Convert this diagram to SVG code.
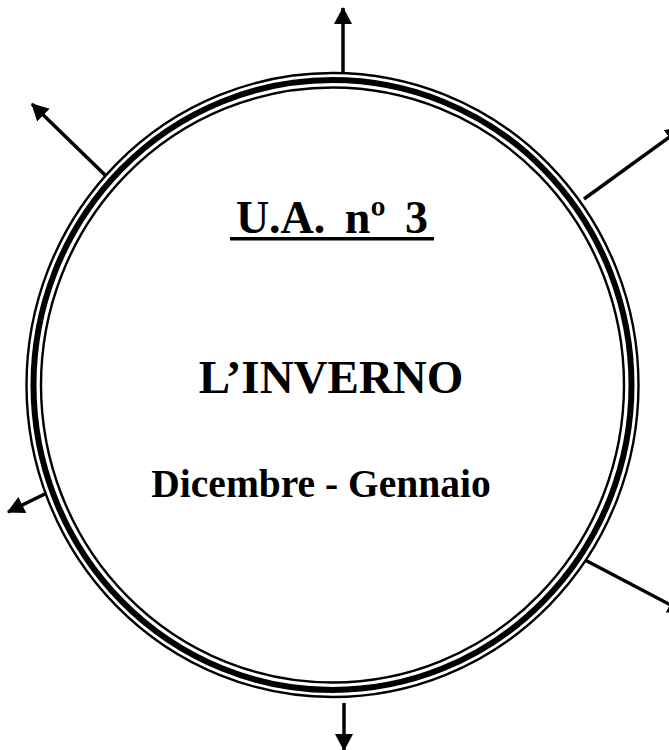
<svg xmlns="http://www.w3.org/2000/svg" width="669" height="750" viewBox="0 0 669 750">
  <style>
    .ring { fill: none; stroke: #000; }
    .conn { stroke: #000; stroke-width: 3.5; fill: none; marker-end: url(#ah); }
    .t { font-family: "Liberation Serif", "Times New Roman", serif; font-weight: bold; fill: #000; text-anchor: middle; }
  </style>
  <defs>
    <marker id="ah" viewBox="0 0 17 18" refX="16" refY="9" markerWidth="17" markerHeight="18" markerUnits="userSpaceOnUse" orient="auto">
      <path d="M0,0 L17,9 L0,18 z" fill="#000"/>
    </marker>
  </defs>
  <rect width="669" height="750" fill="#fff"/>
  <g id="connectors">
    <line class="conn" x1="343" y1="80" x2="343" y2="8"/>
    <line class="conn" x1="105" y1="175" x2="32" y2="104"/>
    <line class="conn" x1="584" y1="199" x2="682" y2="128"/>
    <line class="conn" x1="53" y1="490" x2="8" y2="512"/>
    <line class="conn" x1="585" y1="560" x2="684" y2="612"/>
    <line class="conn" x1="344" y1="703" x2="344" y2="750"/>
  </g>
  <g id="circle">
    <ellipse cx="332.5" cy="385" rx="306" ry="312" style="fill:#fff" class="ring" stroke-width="2.4"/>
    <ellipse class="ring" cx="332.5" cy="385" rx="299" ry="305" stroke-width="6"/>
    <ellipse class="ring" cx="332.5" cy="385" rx="291.5" ry="297.5" stroke-width="2.4"/>
    <text class="t" x="332" y="233" font-size="46" word-spacing="8">U.A. nº 3</text>
    <rect x="230" y="237" width="204" height="3.5" fill="#000"/>
    <text class="t" x="331" y="393" font-size="47">L’INVERNO</text>
    <text class="t" x="321" y="497" font-size="39.5">Dicembre - Gennaio</text>
  </g>
</svg>
